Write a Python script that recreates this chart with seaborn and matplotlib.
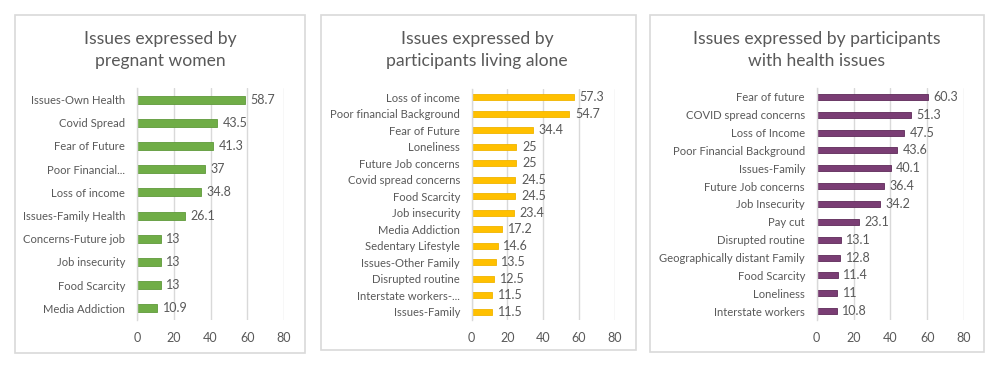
import matplotlib
matplotlib.use("Agg")
import matplotlib.pyplot as plt
import seaborn as sns
import pandas as pd
from matplotlib.patches import Rectangle

# ---- data ----
cats1 = ["Issues-Own Health", "Covid Spread", "Fear of Future", "Poor Financial...",
         "Loss of income", "Issues-Family Health", "Concerns-Future job",
         "Job insecurity", "Food Scarcity", "Media Addiction"]
vals1 = [58.7, 43.5, 41.3, 37, 34.8, 26.1, 13, 13, 13, 10.9]
labels1 = ["58.7", "43.5", "41.3", "37", "34.8", "26.1", "13", "13", "13", "10.9"]

cats2 = ["Loss of income", "Poor financial Background", "Fear of Future", "Loneliness",
         "Future Job concerns", "Covid spread concerns", "Food Scarcity", "Job insecurity",
         "Media Addiction", "Sedentary Lifestyle", "Issues-Other Family",
         "Disrupted routine", "Interstate workers-...", "Issues-Family"]
vals2 = [57.3, 54.7, 34.4, 25, 25, 24.5, 24.5, 23.4, 17.2, 14.6, 13.5, 12.5, 11.5, 11.5]
labels2 = ["57.3", "54.7", "34.4", "25", "25", "24.5", "24.5", "23.4", "17.2", "14.6",
           "13.5", "12.5", "11.5", "11.5"]

cats3 = ["Fear of future", "COVID spread concerns", "Loss of Income",
         "Poor Financial Background", "Issues-Family", "Future Job concerns",
         "Job Insecurity", "Pay cut", "Disrupted routine", "Geographically distant Family",
         "Food Scarcity", "Loneliness", "Interstate workers"]
vals3 = [60.3, 51.3, 47.5, 43.6, 40.1, 36.4, 34.2, 23.1, 13.1, 12.8, 11.4, 11, 10.8]
labels3 = ["60.3", "51.3", "47.5", "43.6", "40.1", "36.4", "34.2", "23.1", "13.1",
           "12.8", "11.4", "11", "10.8"]

titles = ["Issues expressed by\npregnant women",
          "Issues expressed by\nparticipants living alone",
          "Issues expressed by participants\nwith health issues"]
xticks = [0, 20, 40, 60, 80]

sns.set_theme(style="white")
plt.rcParams['font.family'] = ['Lato', 'DejaVu Sans']

W, H = 1000, 369
fig = plt.figure(figsize=(W / 100, H / 100), dpi=100)

txt = "#595959"
grid = "#d9d9d9"

panels = [
    dict(cats=cats1, vals=vals1, labels=labels1, color="#70ad47", edge="#5f9a3a",
         ax=(137, 88, 147, 232), box=(15, 15, 290, 338), tcx=160, bw=0.35),
    dict(cats=cats2, vals=vals2, labels=labels2, color="#ffc000", edge="#f0b400",
         ax=(471.7, 89, 143, 231), box=(321, 15, 315, 335), tcx=477, bw=0.36),
    dict(cats=cats3, vals=vals3, labels=labels3, color="#7a3d74", edge="#5e2a59",
         ax=(816.7, 88, 147.3, 232), box=(650, 15, 334, 337), tcx=817, bw=0.34),
]

for i, p in enumerate(panels):
    bx, by, bw_, bh = p["box"]
    fig.patches.append(Rectangle((bx / W, 1 - (by + bh) / H), bw_ / W, bh / H,
                                 transform=fig.transFigure, fill=False,
                                 edgecolor=grid, linewidth=1.2))
    x0, y0, w, h = p["ax"]
    ax = fig.add_axes([x0 / W, 1 - (y0 + h) / H, w / W, h / H])
    df = pd.DataFrame({"cat": p["cats"], "val": p["vals"]})
    sns.barplot(data=df, x="val", y="cat", orient="h", color=p["color"],
                width=p["bw"], ax=ax, saturation=1, edgecolor=p["edge"], linewidth=0.6)
    ax.bar_label(ax.containers[0], labels=p["labels"], padding=4,
                 fontsize=9, color=txt)
    ax.set_xlim(0, 80)
    ax.set_ylim(len(p["cats"]) - 0.5, -0.5)
    ax.set_xticks(xticks)
    ax.set_xticklabels([str(t) for t in xticks])
    ax.set_xlabel("")
    ax.set_ylabel("")
    ax.xaxis.grid(True, color=grid, linewidth=1)
    ax.set_axisbelow(True)
    for s in ["top", "right", "bottom"]:
        ax.spines[s].set_visible(False)
    ax.spines["left"].set_color(grid)
    ax.spines["left"].set_linewidth(1)
    ax.tick_params(axis="x", length=0, pad=9, labelsize=9, colors=txt)
    ax.tick_params(axis="y", length=0, pad=8.5, labelsize=8.1, colors=txt)
    ax.set_facecolor("none")
    fig.text(p["tcx"] / W, 1 - 50 / H, titles[i], ha="center", va="center",
             fontsize=12.6, color=txt, linespacing=1.5)

fig.savefig("out.png", dpi=100, facecolor="white")
